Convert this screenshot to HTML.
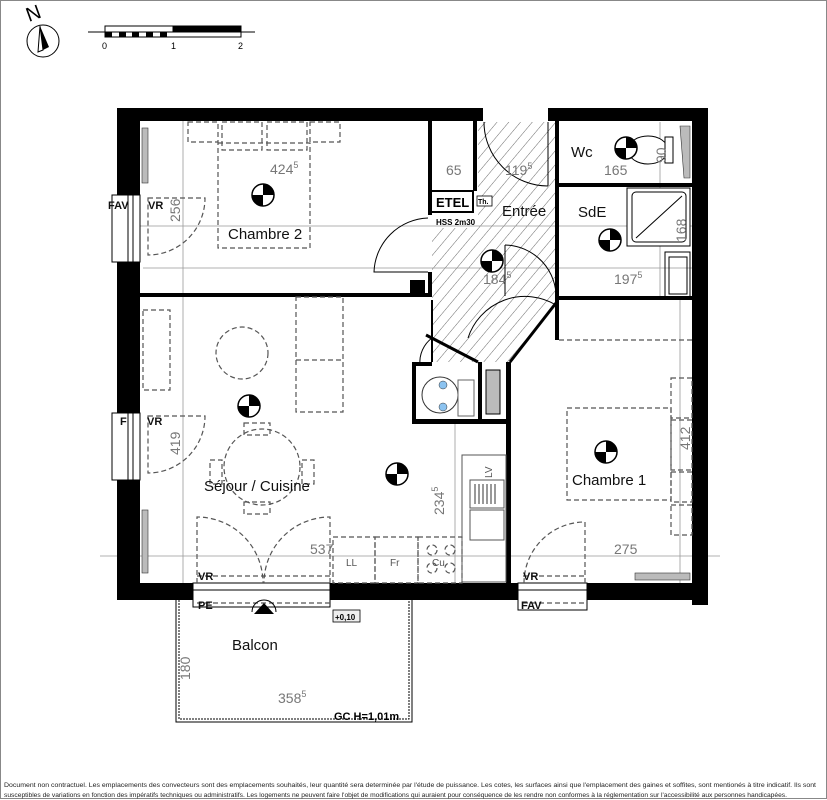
<!DOCTYPE html>
<html><head><meta charset="utf-8"><style>
html,body{margin:0;padding:0;background:#fff}
svg{display:block}
text{font-family:"Liberation Sans",sans-serif}
.d{fill:#777;font-size:14px}
.l{fill:#111;font-size:15px}
.b{fill:#111;font-size:11px;font-weight:bold}
.ds{fill:none;stroke:#555;stroke-width:1.2;stroke-dasharray:5 3}
.th{stroke:#999;stroke-width:0.8;fill:none}
</style></head><body>
<svg width="827" height="800" viewBox="0 0 827 800" xmlns="http://www.w3.org/2000/svg">
<defs>
<pattern id="h" width="9" height="9" patternUnits="userSpaceOnUse" patternTransform="rotate(40)">
<line x1="0" y1="0" x2="0" y2="9" stroke="#444" stroke-width="0.8"/></pattern>
<g id="c"><circle r="11" fill="#fff" stroke="#000" stroke-width="1.5"/><path d="M0 0 L11 0 A11 11 0 0 0 0 -11 Z M0 0 L-11 0 A11 11 0 0 0 0 11Z" fill="#000"/></g>
</defs>
<rect x="0.5" y="0.5" width="826" height="798" fill="none" stroke="#888"/>
<!-- north -->
<text x="26" y="20" font-size="20" fill="#000" transform="rotate(-20 33 13)">N</text>
<circle cx="43" cy="41" r="16" fill="#fff" stroke="#000"/>
<path d="M40 26 L49 47 L43 50 Z" fill="#000"/><path d="M40 26 L43 50 L38 52Z" fill="none" stroke="#000"/>
<line x1="88" y1="32" x2="255" y2="32" stroke="#000"/>
<rect x="105" y="26" width="68" height="6" fill="#fff" stroke="#000"/>
<rect x="173" y="26" width="68" height="6" fill="#000" stroke="#000"/>
<rect x="105" y="32" width="136" height="5" fill="#fff" stroke="#000"/>
<g fill="#000"><rect x="105" y="32" width="7" height="5"/><rect x="119" y="32" width="7" height="5"/><rect x="132" y="32" width="7" height="5"/><rect x="146" y="32" width="7" height="5"/><rect x="160" y="32" width="7" height="5"/></g>
<text x="102" y="49" font-size="9">0</text><text x="171" y="49" font-size="9">1</text><text x="238" y="49" font-size="9">2</text>

<!-- hatch entree -->
<polygon points="478,122 556,122 556,302 510,362 432,362 432,228 478,228" fill="url(#h)"/>

<!-- dimension lines -->
<g class="th">
<line x1="120" y1="226" x2="700" y2="226"/>
<line x1="100" y1="556" x2="720" y2="556"/>
<line x1="183" y1="120" x2="183" y2="590"/>
<line x1="143" y1="268" x2="700" y2="268"/>
<line x1="680" y1="300" x2="680" y2="590"/>
<line x1="455" y1="420" x2="455" y2="590"/>
<line x1="660" y1="122" x2="660" y2="300"/>
</g>

<!-- outer walls -->
<g fill="#000">
<rect x="117" y="108" width="366" height="13"/>
<rect x="548" y="108" width="160" height="13"/>
<rect x="117" y="108" width="23" height="87"/>
<rect x="117" y="262" width="23" height="151"/>
<rect x="117" y="480" width="23" height="120"/>
<rect x="692" y="108" width="16" height="497"/>
<rect x="117" y="583" width="76" height="17"/>
<rect x="330" y="583" width="188" height="17"/>
<rect x="587" y="583" width="121" height="17"/>
<rect x="140" y="293" width="292" height="4"/>
<rect x="428" y="121" width="4" height="94"/>
<rect x="428" y="272" width="4" height="25"/>
<rect x="410" y="280" width="15" height="14"/>
<rect x="473" y="121" width="4" height="70"/>
<rect x="555" y="121" width="4" height="62"/>
<rect x="555" y="183" width="137" height="4"/>
<rect x="555" y="187" width="4" height="113"/>
<rect x="555" y="296" width="137" height="4"/>
<rect x="555" y="300" width="4" height="40"/>
<rect x="506" y="362" width="5" height="221"/>
<rect x="412" y="362" width="4" height="62"/>
<rect x="412" y="419" width="99" height="5"/>
<rect x="412" y="362" width="20" height="4"/>
<rect x="478" y="362" width="4" height="60"/>
</g>
<line x1="432" y1="300" x2="432" y2="362" stroke="#000" stroke-width="2"/>
<line x1="426" y1="335" x2="478" y2="362" stroke="#000" stroke-width="3"/>
<line x1="510" y1="362" x2="556" y2="303" stroke="#000" stroke-width="3"/>
<!-- cupboard -->
<circle cx="440" cy="395" r="18" fill="#fff" stroke="#333"/>
<circle cx="443" cy="385" r="4" fill="#8cc3f0" stroke="#333" stroke-width=".5"/>
<circle cx="443" cy="407" r="4" fill="#8cc3f0" stroke="#333" stroke-width=".5"/>
<rect x="458" y="380" width="16" height="36" fill="none" stroke="#666"/>
<path d="M486 370 L500 370 L500 414 L486 414 Z" fill="#bbb" stroke="#000"/>

<!-- windows -->
<g fill="#fff" stroke="#000" stroke-width="1">
<rect x="112" y="195" width="28" height="67"/><line x1="128" y1="195" x2="128" y2="262"/><line x1="133" y1="195" x2="133" y2="262"/>
<rect x="112" y="413" width="28" height="67"/><line x1="128" y1="413" x2="128" y2="480"/><line x1="133" y1="413" x2="133" y2="480"/>
<rect x="193" y="583" width="137" height="7"/><rect x="193" y="590" width="137" height="17"/>
<rect x="518" y="583" width="69" height="7"/><rect x="518" y="590" width="69" height="20"/>
</g>
<rect x="142" y="128" width="6" height="55" fill="#bbb" stroke="#333" stroke-width=".6"/>
<rect x="142" y="510" width="6" height="63" fill="#bbb" stroke="#333" stroke-width=".6"/>
<rect x="635" y="573" width="55" height="7" fill="#bbb" stroke="#333" stroke-width=".6"/>
<path d="M680 126 L690 126 L690 178 L684 178 Z" fill="#bbb" stroke="#333" stroke-width=".6"/>

<!-- doors -->
<g fill="none" stroke="#000" stroke-width="1">
<path d="M428 218 A56 56 0 0 0 374 272 L428 272"/>
<path d="M484 122 A64 64 0 0 0 548 186"/><line x1="548" y1="122" x2="548" y2="186"/>
<path d="M505 245 A52 52 0 0 1 556 300"/><line x1="505" y1="245" x2="505" y2="296"/>
<path d="M468 338 A60 60 0 0 1 556 305"/>
<path d="M432 338 A30 30 0 0 0 420 365"/>
</g>
<g class="ds">
<path d="M148 198 L205 198 A57 57 0 0 1 148 255 Z"/>
<path d="M148 416 L205 416 A57 57 0 0 1 148 473 Z"/>
<path d="M197 583 L197 517 A66 66 0 0 1 263 583"/>
<path d="M330 583 L330 517 A66 66 0 0 0 264 583"/>
<path d="M585 583 L585 522 A61 61 0 0 0 524 583"/>
<line x1="197" y1="576" x2="330" y2="576"/><line x1="523" y1="576" x2="587" y2="576"/>
<line x1="197" y1="603" x2="330" y2="603"/><line x1="523" y1="603" x2="587" y2="603"/>
<rect x="218" y="143" width="92" height="105"/>
<rect x="188" y="122" width="30" height="20"/><rect x="310" y="122" width="30" height="20"/>
<rect x="222" y="122" width="40" height="28"/><rect x="267" y="122" width="40" height="28"/>
<rect x="296" y="297" width="47" height="115"/><line x1="296" y1="360" x2="343" y2="360"/>
<circle cx="242" cy="353" r="26"/>
<circle cx="262" cy="467" r="38"/>
<rect x="244" y="423" width="26" height="12"/><rect x="244" y="502" width="26" height="12"/>
<rect x="210" y="460" width="12" height="24"/><rect x="302" y="460" width="12" height="24"/>
<rect x="143" y="310" width="27" height="80"/>
<rect x="567" y="408" width="104" height="92"/>
<rect x="671" y="378" width="21" height="40"/><rect x="671" y="420" width="21" height="50"/><rect x="671" y="472" width="21" height="30"/><rect x="671" y="505" width="21" height="30"/>
<rect x="333" y="537" width="42" height="46"/><rect x="375" y="537" width="43" height="46"/><rect x="418" y="537" width="44" height="46"/>
<circle cx="432" cy="550" r="5"/><circle cx="450" cy="550" r="5"/><circle cx="432" cy="568" r="5"/><circle cx="450" cy="568" r="5"/>
<line x1="559" y1="340" x2="692" y2="340"/>
</g>
<rect x="462" y="455" width="44" height="127" fill="none" stroke="#555"/>
<rect x="470" y="480" width="34" height="28" fill="#fff" stroke="#555"/>
<g stroke="#333"><line x1="475" y1="484" x2="475" y2="504"/><line x1="479" y1="484" x2="479" y2="504"/><line x1="483" y1="484" x2="483" y2="504"/><line x1="487" y1="484" x2="487" y2="504"/><line x1="491" y1="484" x2="491" y2="504"/><line x1="495" y1="484" x2="495" y2="504"/></g>
<rect x="470" y="510" width="34" height="30" fill="none" stroke="#555"/>
<ellipse cx="648" cy="150" rx="20" ry="14" fill="#fff" stroke="#000"/>
<rect x="665" y="137" width="8" height="26" fill="#fff" stroke="#000"/>
<rect x="627" y="188" width="63" height="58" fill="#fff" stroke="#000"/>
<rect x="632" y="192" width="54" height="50" rx="4" fill="none" stroke="#000"/>
<line x1="636" y1="238" x2="682" y2="196" stroke="#000"/>
<rect x="665" y="252" width="25" height="45" fill="none" stroke="#000"/>
<rect x="669" y="257" width="18" height="37" fill="none" stroke="#000"/>
<rect x="431" y="191" width="42" height="21" fill="#fff" stroke="#000" stroke-width="2"/>
<text x="436" y="207" font-size="13" font-weight="bold">ETEL</text>
<rect x="477" y="196" width="15" height="10" fill="#fff" stroke="#000" stroke-width=".8"/>
<text x="478" y="204" font-size="7" font-weight="bold">Th.</text>
<text x="436" y="225" font-size="8" font-weight="bold">HSS 2m30</text>
<g fill="none" stroke="#000">
<path d="M176 600 L176 722 L412 722 L412 600"/>
<path d="M179 600 L179 719 L409 719 L409 600" stroke-dasharray="2 1"/>
</g>
<rect x="333" y="610" width="27" height="12" fill="#eee" stroke="#000" stroke-width=".8"/>
<text x="335" y="620" font-size="8" font-weight="bold">+0,10</text>
<path d="M254 614 L264 603 L274 614 Z" fill="#000"/><path d="M252 612 A12 12 0 0 1 276 612" fill="none" stroke="#000"/>
<use href="#c" x="263" y="195"/><use href="#c" x="492" y="261"/><use href="#c" x="626" y="148"/>
<use href="#c" x="610" y="240"/><use href="#c" x="249" y="406"/><use href="#c" x="397" y="474"/><use href="#c" x="606" y="452"/>
<text class="l" x="228" y="239">Chambre 2</text>
<text class="l" x="502" y="216">Entrée</text>
<text class="l" x="571" y="157">Wc</text>
<text class="l" x="578" y="217">SdE</text>
<text class="l" x="204" y="491">Séjour / Cuisine</text>
<text class="l" x="572" y="485">Chambre 1</text>
<text class="l" x="232" y="650">Balcon</text>
<text class="d" x="270" y="174">424<tspan font-size="9" dy="-6">5</tspan></text>
<text class="d" x="446" y="175">65</text>
<text class="d" x="505" y="175">119<tspan font-size="9" dy="-6">5</tspan></text>
<text class="d" x="604" y="175">165</text>
<text class="d" x="483" y="284">184<tspan font-size="9" dy="-6">5</tspan></text>
<text class="d" x="614" y="284">197<tspan font-size="9" dy="-6">5</tspan></text>
<text class="d" x="310" y="554">537</text>
<text class="d" x="614" y="554">275</text>
<text class="d" x="278" y="703">358<tspan font-size="9" dy="-6">5</tspan></text>
<text class="d" transform="translate(180,222) rotate(-90)">256</text>
<text class="d" transform="translate(180,455) rotate(-90)">419</text>
<text class="d" transform="translate(190,680) rotate(-90)">180</text>
<text class="d" transform="translate(444,515) rotate(-90)">234<tspan font-size="9" dy="-6">5</tspan></text>
<text class="d" transform="translate(690,450) rotate(-90)">412</text>
<text class="d" transform="translate(686,242) rotate(-90)">168</text>
<text class="d" font-size="11" transform="translate(666,163) rotate(-90)">90</text>
<text x="346" y="566" font-size="10" fill="#555">LL</text>
<text x="390" y="566" font-size="10" fill="#555">Fr</text>
<text x="432" y="566" font-size="10" fill="#555">Cu</text>
<text x="0" y="0" font-size="10" fill="#555" transform="translate(492,478) rotate(-90)">LV</text>
<text class="b" x="108" y="209">FAV</text><text class="b" x="148" y="209">VR</text>
<text class="b" x="120" y="425">F</text><text class="b" x="147" y="425">VR</text>
<text class="b" x="198" y="580">VR</text><text class="b" x="198" y="609">PE</text>
<text class="b" x="523" y="580">VR</text><text class="b" x="521" y="609">FAV</text>
<text x="334" y="720" font-size="11" font-weight="bold">GC  H=1,01m</text>
<text x="4" y="787" font-size="6.8" fill="#222" textLength="812" lengthAdjust="spacingAndGlyphs">Document non contractuel. Les emplacements des convecteurs sont des emplacements souhaités, leur quantité sera determinée par l'étude de puissance. Les cotes, les surfaces ainsi que l'emplacement des gaines et soffites, sont mentionés à titre indicatif. Ils sont</text>
<text x="4" y="797" font-size="6.8" fill="#222" textLength="783" lengthAdjust="spacingAndGlyphs">susceptibles de variations en fonction des impératifs techniques ou administratifs. Les logements ne peuvent faire l'objet de modifications qui auraient pour conséquence de les rendre non conformes à la réglementation sur l'accessibilité aux personnes handicapées.</text>
</svg>
</body></html>
